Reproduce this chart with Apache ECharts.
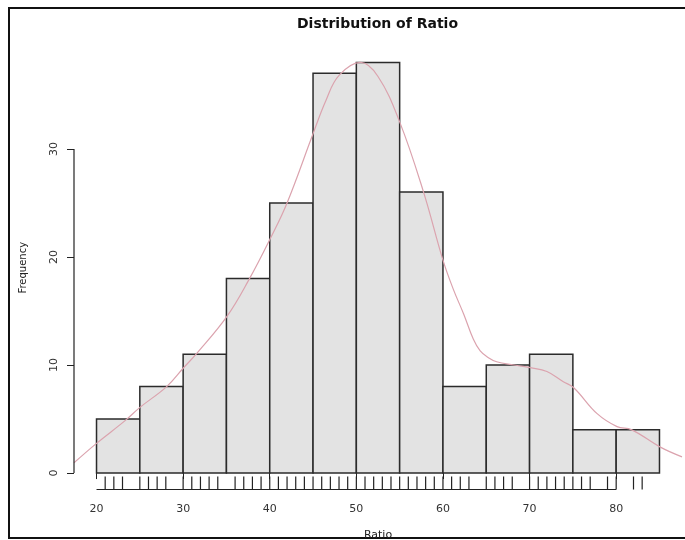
<!DOCTYPE html>
<html>
<head>
<meta charset="utf-8">
<script src="https://cdn.jsdelivr.net/npm/echarts@6/dist/echarts.min.js"></script>
<style>html,body{margin:0;padding:0;background:#fff;}#c{width:685px;height:540px;}</style>
</head>
<body>
<div id="c"></div>
<script>
// Histogram bins (right-closed, width 5) and counts
var binStarts = [20, 25, 30, 35, 40, 45, 50, 55, 60, 65, 70, 75, 80];
var binWidth = 5;
var counts = [5, 8, 11, 18, 25, 37, 38, 26, 8, 10, 11, 4, 4];
// Rug: distinct observed Ratio values
var rugValues = [21,22,23,25,26,27,28,30,31,32,33,34,36,37,38,39,40,41,42,43,44,45,46,47,48,49,50,51,52,53,54,55,56,57,58,59,60,61,62,63,65,66,67,68,70,71,72,73,74,75,76,77,79,80,82,83];
// Density curve (scaled to counts)
var densX = [17.4, 20.0, 23.3, 25.05, 28.1, 30.0, 31.6, 35.06, 37.6, 40.06, 42.0, 45.0, 46.5, 48.0, 50.5, 52.5, 55.0, 57.76, 60.0, 61.2, 62.4, 63.5, 64.3, 65.2, 66.2, 68.2, 70.1, 72.0, 73.9, 75.1, 77.8, 80.1, 81.8, 85.1, 87.6];
var densY = [0.95, 2.75, 4.85, 6.1, 8.0, 9.7, 11.1, 14.5, 17.9, 21.7, 25.0, 31.4, 34.5, 36.8, 38.0, 36.7, 32.5, 26.0, 19.7, 17.0, 14.7, 12.4, 11.3, 10.7, 10.3, 10.0, 9.75, 9.4, 8.45, 7.9, 5.5, 4.3, 4.0, 2.4, 1.5];
// Tick labels
var xTicks = [20, 30, 40, 50, 60, 70, 80];
var yTicks = [0, 10, 20, 30];

var lo = binStarts[0], hi = binStarts[binStarts.length - 1] + binWidth;
var maxC = Math.max.apply(null, counts);
var xMin = lo - 0.04 * (hi - lo), xMax = hi + 0.04 * (hi - lo);
var yMin = -0.04 * maxC, yMax = maxC * 1.04;

var barData = binStarts.map(function (s, i) { return [s, s + binWidth, counts[i]]; });
var densData = densX.map(function (x, i) { return [x, densY[i]]; });

var font = 'DejaVu Sans';
var chart = echarts.init(document.getElementById('c'));
chart.setOption({
  animation: false,
  backgroundColor: '#ffffff',
  title: {
    text: 'Distribution of Ratio',
    left: 292, top: 12,
    textStyle: { fontFamily: font, fontSize: 14, fontWeight: 'bold', color: '#111' }
  },
  grid: { left: 74, right: 3, top: 46, bottom: 50.5, outerBoundsMode: 'none', containLabel: false },
  xAxis: {
    type: 'value', min: xMin, max: xMax,
    name: 'Ratio', nameLocation: 'middle', nameGap: 40,
    nameTextStyle: { fontFamily: font, fontSize: 11, color: '#222' },
    axisLine: { show: false },
    splitLine: { show: false },
    axisTick: { show: true, customValues: xTicks, length: 6, lineStyle: { color: '#222', width: 1 } },
    axisLabel: { customValues: xTicks, margin: 14, fontFamily: font, fontSize: 11, color: '#333' }
  },
  yAxis: {
    type: 'value', min: yMin, max: yMax,
    name: 'Frequency', nameLocation: 'middle', nameGap: 46, nameRotate: 90,
    nameTextStyle: { fontFamily: font, fontSize: 10, color: '#222' },
    axisLine: { show: false },
    splitLine: { show: false },
    axisTick: { show: true, customValues: yTicks, length: 7, lineStyle: { color: '#222', width: 1 } },
    axisLabel: { customValues: yTicks, rotate: 90, margin: 14, fontFamily: font, fontSize: 11, color: '#333' }
  },
  series: [
    {
      type: 'custom', name: 'hist', silent: true,
      data: barData,
      renderItem: function (params, api) {
        var p0 = api.coord([api.value(0), api.value(2)]);
        var p1 = api.coord([api.value(1), 0]);
        return {
          type: 'rect',
          shape: { x: p0[0], y: p0[1], width: p1[0] - p0[0], height: p1[1] - p0[1] },
          style: { fill: '#e3e3e3', stroke: '#2b2b2b', lineWidth: 1.5 }
        };
      }
    },
    {
      type: 'custom', name: 'rug', silent: true,
      data: rugValues.map(function (v) { return [v]; }),
      renderItem: function (params, api) {
        var b = api.coord([api.value(0), yMin]);
        return {
          type: 'line',
          shape: { x1: b[0], y1: b[1], x2: b[0], y2: b[1] - 13 },
          style: { stroke: '#222', lineWidth: 1.2 }
        };
      }
    },
    {
      type: 'line', name: 'density', data: densData, smooth: 0.4,
      showSymbol: false, silent: true, clip: true,
      lineStyle: { color: '#dba3ae', width: 1.2 }, z: 5
    },
    {
      type: 'line', name: 'xaxisline', data: [[xTicks[0], yMin], [xTicks[xTicks.length - 1], yMin]],
      showSymbol: false, silent: true, clip: false,
      lineStyle: { color: '#222', width: 1.2 }, z: 6
    },
    {
      type: 'line', name: 'yaxisline', data: [[xMin, yTicks[0]], [xMin, yTicks[yTicks.length - 1]]],
      showSymbol: false, silent: true, clip: false,
      lineStyle: { color: '#222', width: 1.2 }, z: 6
    }
  ],
  graphic: [
    {
      type: 'polyline', silent: true,
      shape: { points: [[700, 8], [9, 8], [9, 538], [700, 538]] },
      style: { stroke: '#111', lineWidth: 2, fill: null }
    }
  ]
});
</script>
</body>
</html>
